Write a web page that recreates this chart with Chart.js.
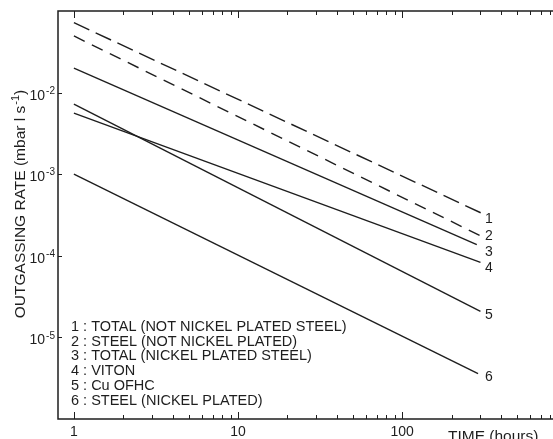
<!DOCTYPE html>
<html>
<head>
<title>Outgassing rate vs time</title>
<script src="https://cdn.jsdelivr.net/npm/chart.js@4"></script>
<style>
    body { margin: 0; background: #fff; }
</style>
</head>
<body>
<canvas id="myChart" width="553" height="439"></canvas>
<script>
// curve names, in label order 1..6
var seriesNames = [
    'TOTAL (NOT NICKEL PLATED STEEL)',
    'STEEL (NOT NICKEL PLATED)',
    'TOTAL (NICKEL PLATED STEEL)',
    'VITON',
    'Cu OFHC',
    'STEEL (NICKEL PLATED)'
];
// each curve is a straight line on log-log axes: start and end point
var startTimes = [1, 1, 1, 1, 1, 1];
var startRates = [0.072, 0.0494, 0.0199, 0.0056, 0.0072, 0.001];
var endTimes = [320, 305, 285, 300, 300, 290];
var endRates = [3.18e-4, 1.73e-4, 1.37e-4, 8.3e-5, 2.09e-5, 3.6e-6];
var dashed = [true, true, false, false, false, false];

var xDecades = [1, 10, 100];          // labelled x ticks
var yExponents = [-2, -3, -4, -5];     // labelled y ticks (10^n)

var ink = '#1e1e1e';
var font = 'Liberation Sans, Arial, sans-serif';

var datasets = seriesNames.map(function(name, i) {
    return {
        label: name,
        data: [{x: startTimes[i], y: startRates[i]}, {x: endTimes[i], y: endRates[i]}],
        borderColor: ink,
        borderWidth: 1.4,
        borderDash: dashed[i] ? (i === 0 ? [17, 7] : [12, 8]) : [],
        pointRadius: 0,
        tension: 0,
        fill: false
    };
});

// text with a small raised exponent, e.g. 10^-2
function supText(ctx, base, exp, x, y, size, align) {
    var small = Math.round(size * 0.72);
    ctx.font = size + 'px ' + font;
    var wb = ctx.measureText(base).width;
    ctx.font = small + 'px ' + font;
    var we = ctx.measureText(exp).width;
    var left = align === 'right' ? x - wb - we - 1 : x;
    ctx.textAlign = 'left';
    ctx.font = size + 'px ' + font;
    ctx.fillText(base, left, y);
    ctx.font = small + 'px ' + font;
    ctx.fillText(exp, left + wb + 1, y - size * 0.42);
}

var axesPlugin = {
    id: 'axesPlugin',
    afterDraw: function(chart) {
        var ctx = chart.ctx, xs = chart.scales.x, ys = chart.scales.y, a = chart.chartArea;
        ctx.save();
        ctx.strokeStyle = ink;
        ctx.fillStyle = ink;

        // frame (left, top, bottom; right side is open)
        ctx.lineWidth = 1.5;
        ctx.beginPath();
        ctx.moveTo(a.right, a.top); ctx.lineTo(a.left, a.top);
        ctx.lineTo(a.left, a.bottom); ctx.lineTo(a.right, a.bottom);
        ctx.stroke();

        // x ticks, inward on bottom and top
        ctx.lineWidth = 1;
        ctx.beginPath();
        xDecades.forEach(function(d) {
            for (var m = 1; m <= 9; m++) {
                var v = m * d;
                if (v > xs.max) break;
                var px = Math.round(xs.getPixelForValue(v)) + 0.5;
                var len = m === 1 ? 7 : 4;
                ctx.moveTo(px, a.bottom); ctx.lineTo(px, a.bottom - len);
                ctx.moveTo(px, a.top); ctx.lineTo(px, a.top + len);
            }
        });
        // y ticks at decades
        yExponents.forEach(function(e) {
            var py = Math.round(ys.getPixelForValue(Math.pow(10, e))) + 0.5;
            ctx.moveTo(a.left, py); ctx.lineTo(a.left + 4, py);
        });
        ctx.stroke();

        // x tick labels
        ctx.font = '14px ' + font;
        ctx.textAlign = 'center';
        ctx.textBaseline = 'alphabetic';
        xDecades.forEach(function(d) {
            ctx.fillText(String(d), xs.getPixelForValue(d), 436);
        });
        // y tick labels
        yExponents.forEach(function(e) {
            var py = ys.getPixelForValue(Math.pow(10, e));
            supText(ctx, '10', String(e), 55, py + 7, 14, 'right');
        });

        // axis titles
        ctx.font = '15.5px ' + font;
        ctx.textAlign = 'left';
        ctx.fillText('TIME (hours)', 448, 441);

        ctx.save();
        ctx.translate(25, 204);
        ctx.rotate(-Math.PI / 2);
        var t1 = 'OUTGASSING RATE (mbar l s', t2 = '-1', t3 = ')';
        ctx.font = '15.5px ' + font;
        var w1 = ctx.measureText(t1).width, w3 = ctx.measureText(t3).width;
        ctx.font = '11px ' + font;
        var w2 = ctx.measureText(t2).width;
        var x0 = -(w1 + w2 + w3 + 1) / 2;
        ctx.font = '15.5px ' + font;
        ctx.fillText(t1, x0, 0);
        ctx.font = '11px ' + font;
        ctx.fillText(t2, x0 + w1 + 1, -6);
        ctx.font = '15.5px ' + font;
        ctx.fillText(t3, x0 + w1 + w2 + 1, 0);
        ctx.restore();

        // curve numbers at line ends, pushed apart so they don't overlap
        var ly = endRates.map(function(r) { return ys.getPixelForValue(r) + 4; });
        for (var k = 0; k < 3; k++) {
            for (var i = 1; i < ly.length; i++) {
                var gap = ly[i] - ly[i - 1];
                if (gap < 16) {
                    ly[i - 1] -= (16 - gap) / 2;
                    ly[i] += (16 - gap) / 2;
                }
            }
        }
        ctx.font = '14px ' + font;
        ctx.textAlign = 'left';
        ctx.textBaseline = 'middle';
        ly.forEach(function(y, i) {
            ctx.fillText(String(i + 1), 485, y);
        });

        // key
        ctx.font = '14.5px ' + font;
        ctx.textBaseline = 'alphabetic';
        seriesNames.forEach(function(n, i) {
            ctx.fillText((i + 1) + ' : ' + n, 71, 331 + i * 14.7);
        });
        ctx.restore();
    }
};

var ctx = document.getElementById('myChart').getContext('2d');
var chart = new Chart(ctx, {
    type: 'line',
    data: { datasets: datasets },
    options: {
        responsive: false,
        animation: false,
        devicePixelRatio: 1,
        layout: { padding: { left: 58, top: 11, right: 0, bottom: 20 } },
        scales: {
            x: { type: 'logarithmic', min: 0.8, max: 830, display: false },
            y: { type: 'logarithmic', min: 1e-6, max: 1e-1, display: false }
        },
        plugins: {
            legend: { display: false },
            tooltip: { enabled: false }
        }
    },
    plugins: [axesPlugin]
});
</script>
</body>
</html>
